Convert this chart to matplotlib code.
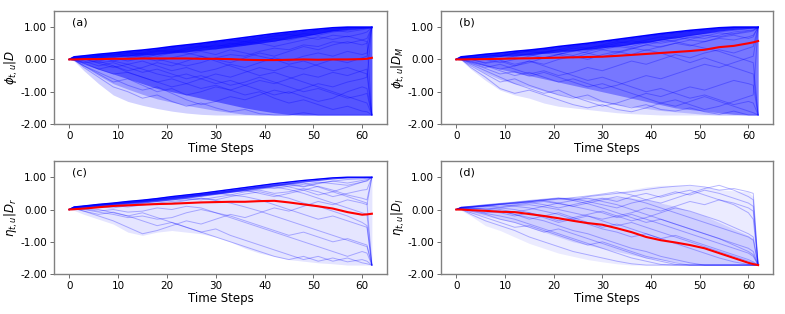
import numpy as np
import matplotlib
matplotlib.use('Agg')
import matplotlib.pyplot as plt
from matplotlib.ticker import FormatStrFormatter

# time grid shared by all series
steps = [0, 1, 3, 6, 9, 12, 15, 18, 21, 24, 27, 30, 33, 36, 39, 42, 45, 48, 51, 54, 57, 60, 61, 62]

# upper bound of the paths
upper = [0, .08, .11, .16, .2, .25, .29, .34, .4, .45, .5, .56, .62, .68, .74, .8, .85, .9, .94, .98, 1.0, 1.0, 1.0, 1.0]

# ---------- panel (a) ----------
mean_a = [0, 0, .01, .01, .02, .02, .03, .03, .03, .03, .02, .02, .01, -.01, -.02, -.02, -.01, 0, -.01, 0, 0, .01, .02, .05]
haze_lo_a = [0, -.05, -.35, -.75, -1.1, -1.3, -1.42, -1.52, -1.6, -1.66, -1.7, -1.72, -1.72, -1.72, -1.72, -1.72, -1.72, -1.72, -1.72, -1.72, -1.72, -1.72, -1.72, -1.72]
mid_lo_a = [0, -.04, -.22, -.5, -.75, -.92, -1.08, -1.22, -1.32, -1.42, -1.5, -1.58, -1.64, -1.7, -1.72, -1.72, -1.72, -1.72, -1.72, -1.72, -1.72, -1.72, -1.72, -1.72]
core_lo_a = [0, -.03, -.12, -.3, -.45, -.6, -.75, -.9, -1.0, -1.1, -1.2, -1.3, -1.4, -1.5, -1.58, -1.65, -1.7, -1.72, -1.72, -1.72, -1.72, -1.72, -1.72, -1.72]
solid_lo_a = [0, 0, .02, .05, .08, .1, .13, .16, .2, .24, .28, .33, .38, .44, .5, .57, .64, .72, .8, .88, .93, .96, .97, .97]
paths_a = [
    [0, .06, .02, -.1, -.05, .05, .1, .02, -.1, -.2, -.1, .05, .15, .1, .25, .35, .3, .45, .4, .55, .5, .6, .65, 1.0],
    [0, .02, -.15, -.3, -.45, -.4, -.55, -.7, -.6, -.75, -.9, -.8, -.95, -1.1, -1.0, -1.2, -1.35, -1.25, -1.4, -1.55, -1.45, -1.6, -1.62, -1.72],
    [0, .08, .1, .14, .12, .2, .15, .25, .3, .22, .35, .45, .4, .5, .6, .55, .7, .8, .75, .85, .9, .95, .97, 1.0],
    [0, -.02, -.2, -.45, -.7, -.6, -.8, -1.0, -.9, -1.1, -1.0, -.85, -.95, -.8, -.65, -.75, -.6, -.45, -.55, -.4, -.5, -.35, -.3, -1.72],
    [0, .05, 0, .08, -.05, -.15, -.05, -.2, -.35, -.25, -.4, -.3, -.15, -.25, -.1, .05, -.05, .1, .2, .1, .25, .15, .2, 1.0],
    [0, .04, -.05, -.2, -.1, -.25, -.4, -.3, -.45, -.6, -.5, -.65, -.8, -.7, -.55, -.7, -.85, -1.0, -.9, -1.05, -1.2, -1.1, -1.05, -1.72],
    [0, .07, .09, .12, .18, .1, .2, .28, .22, .35, .42, .38, .5, .45, .55, .65, .6, .7, .62, .75, .7, .8, .85, 1.0],
    [0, 0, -.25, -.55, -.85, -1.0, -1.2, -1.1, -1.3, -1.45, -1.35, -1.5, -1.62, -1.55, -1.68, -1.72, -1.72, -1.65, -1.72, -1.72, -1.72, -1.72, -1.72, -1.72],
    [0, .06, .05, -.05, .05, .15, .05, -.05, .05, .15, .25, .15, .3, .2, .1, 0, -.15, -.05, -.2, -.35, -.25, -.4, -.45, -1.72],
    [0, .03, -.1, -.05, -.2, -.35, -.25, -.1, -.2, -.05, .1, 0, -.1, .05, .2, .1, .25, .4, .3, .45, .55, .45, .5, 1.0],
    [0, .05, .02, -.12, -.25, -.15, -.3, -.45, -.55, -.45, -.6, -.75, -.65, -.8, -.95, -1.1, -1.0, -1.15, -1.3, -1.2, -1.0, -.85, -.9, -1.72],
    [0, .08, .11, .15, .2, .24, .28, .33, .38, .44, .49, .54, .6, .55, .65, .72, .78, .7, .8, .9, .85, .92, .95, 1.0],
    [0, .02, -.12, -.3, -.2, -.4, -.55, -.7, -.85, -.75, -.6, -.45, -.55, -.4, -.25, -.35, -.2, -.3, -.15, 0, -.1, .05, .1, 1.0],
    [0, .04, 0, .1, .05, -.05, .05, .15, .25, .2, .1, -.05, -.2, -.35, -.5, -.4, -.55, -.7, -.85, -1.0, -1.15, -1.3, -1.35, -1.72],
    [0, .07, .05, .12, .15, .22, .18, .1, .2, .3, .4, .32, .45, .55, .5, .4, .5, .6, .7, .62, .72, .6, .55, -1.72],
    [0, .01, -.2, -.4, -.6, -.8, -.95, -.85, -1.05, -1.25, -1.4, -1.3, -1.15, -1.25, -1.1, -.95, -1.05, -.9, -.75, -.85, -.7, -.6, -.55, 1.0],
]

# ---------- panel (b) ----------
mean_b = [0, 0, .005, .01, .02, .03, .035, .045, .055, .065, .075, .085, .11, .14, .17, .2, .23, .26, .3, .38, .42, .5, .53, .57]
haze_lo_b = [0, -.03, -.3, -.65, -.95, -1.1, -1.2, -1.35, -1.45, -1.5, -1.55, -1.6, -1.65, -1.68, -1.7, -1.72, -1.72, -1.72, -1.72, -1.72, -1.72, -1.72, -1.72, -1.72]
mid_lo_b = [0, -.02, -.18, -.42, -.62, -.75, -.85, -.98, -1.08, -1.16, -1.24, -1.32, -1.4, -1.46, -1.52, -1.58, -1.62, -1.66, -1.7, -1.72, -1.72, -1.72, -1.72, -1.72]
core_lo_b = [0, -.02, -.08, -.2, -.3, -.4, -.5, -.6, -.7, -.8, -.9, -1.0, -1.1, -1.2, -1.3, -1.4, -1.5, -1.55, -1.6, -1.65, -1.7, -1.72, -1.72, -1.72]
solid_lo_b = [0, 0, .03, .06, .09, .12, .15, .19, .23, .27, .31, .36, .41, .47, .53, .6, .67, .74, .81, .88, .93, .96, .97, .97]
paths_b = [
    [0, .07, .1, .15, .1, .2, .25, .2, .3, .4, .35, .45, .55, .5, .6, .7, .65, .75, .8, .85, .9, .95, .97, 1.0],
    [0, 0, -.2, -.45, -.7, -.6, -.8, -.95, -1.1, -1.2, -1.1, -1.3, -1.4, -1.5, -1.4, -1.55, -1.6, -1.5, -1.62, -1.7, -1.6, -1.72, -1.72, -1.72],
    [0, .05, 0, -.1, 0, .1, .15, .05, .15, .25, .35, .3, .4, .35, .45, .55, .6, .7, .65, .75, .85, .9, .92, 1.0],
    [0, .03, -.1, -.25, -.15, -.3, -.45, -.35, -.5, -.4, -.25, -.35, -.2, -.05, -.15, 0, .15, .05, .2, .3, .2, .35, .4, 1.0],
    [0, .06, .05, .1, -.02, -.15, -.05, -.2, -.35, -.5, -.65, -.55, -.7, -.85, -1.0, -.9, -1.05, -1.2, -1.1, -1.25, -1.4, -1.3, -1.35, -1.72],
    [0, .08, .11, .16, .2, .25, .29, .33, .38, .43, .48, .54, .6, .66, .72, .78, .83, .88, .92, .96, .99, 1.0, 1.0, 1.0],
    [0, .02, -.15, -.35, -.55, -.75, -.9, -1.05, -.95, -1.15, -1.3, -1.45, -1.35, -1.2, -1.05, -1.15, -1.0, -.85, -.95, -.8, -.65, -.75, -.8, -1.72],
    [0, .07, .08, .02, .1, .18, .12, .22, .3, .25, .35, .42, .38, .48, .55, .5, .58, .68, .75, .7, .8, .88, .9, 1.0],
    [0, .04, -.05, -.18, -.3, -.2, -.05, -.15, 0, .1, 0, .15, .25, .15, .3, .2, .05, -.1, .05, -.1, -.25, -.4, -.45, -1.72],
    [0, .05, .02, .08, .15, .08, .18, .25, .2, .12, .25, .35, .45, .4, .52, .6, .7, .62, .72, .82, .78, .85, .88, 1.0],
    [0, .01, -.25, -.55, -.9, -1.05, -.95, -1.1, -1.25, -1.4, -1.5, -1.4, -1.55, -1.62, -1.5, -1.35, -1.45, -1.3, -1.15, -1.3, -1.45, -1.6, -1.65, -1.72],
    [0, .06, .06, 0, -.1, 0, .1, .2, .15, .28, .2, .08, .2, .32, .45, .38, .5, .42, .55, .65, .6, .7, .75, 1.0],
    [0, .03, -.08, -.2, -.35, -.5, -.4, -.55, -.7, -.6, -.75, -.9, -.8, -.65, -.5, -.6, -.45, -.3, -.15, -.25, -.1, .05, .1, 1.0],
    [0, .07, .1, .14, .1, .2, .27, .32, .25, .35, .28, .4, .5, .58, .5, .62, .55, .45, .35, .25, .1, -.05, -.1, -1.72],
    [0, .05, 0, -.12, -.05, -.2, -.1, .05, .15, .05, .18, .3, .22, .35, .28, .4, .5, .6, .55, .68, .75, .65, .7, 1.0],
    [0, .02, -.12, -.28, -.45, -.38, -.52, -.4, -.55, -.7, -.85, -.75, -.9, -1.05, -1.2, -1.35, -1.25, -1.4, -1.55, -1.45, -1.3, -1.15, -1.1, 1.0],
]

# ---------- panel (c) ----------
mean_c = [0, .01, .03, .07, .11, .13, .15, .17, .18, .2, .22, .23, .24, .24, .26, .27, .22, .16, .1, .03, -.08, -.16, -.15, -.13]
haze_lo_c = [0, -.03, -.15, -.3, -.45, -.7, -.8, -.7, -.65, -.7, -.75, -.85, -1.0, -1.2, -1.35, -1.45, -1.55, -1.6, -1.65, -1.68, -1.72, -1.72, -1.72, -1.72]
solid_lo_c = [0, 0, .04, .08, .12, .16, .2, .25, .3, .35, .41, .47, .53, .6, .66, .73, .79, .85, .9, .95, .98, .98, .98, .98]
paths_c = [
    [0, .08, .11, .16, .2, .25, .29, .34, .4, .45, .5, .56, .62, .68, .74, .8, .85, .9, .94, .98, 1.0, 1.0, 1.0, 1.0],
    [0, .07, .1, .15, .19, .23, .27, .32, .37, .42, .47, .52, .58, .63, .7, .75, .8, .72, .82, .88, .93, .95, .97, 1.0],
    [0, .06, .08, .12, .16, .2, .24, .28, .33, .38, .44, .48, .55, .6, .5, .4, .5, .6, .45, .55, .4, .25, .2, -1.72],
    [0, .05, .03, 0, -.1, -.2, -.1, -.25, -.4, -.55, -.7, -.6, -.8, -.95, -1.1, -1.25, -1.4, -1.55, -1.45, -1.6, -1.5, -1.65, -1.68, -1.72],
    [0, .07, .09, .14, .18, .22, .26, .3, .35, .4, .45, .5, .55, .58, .65, .7, .62, .5, .35, .2, .05, -.1, -.15, -1.72],
    [0, .04, -.05, -.2, -.35, -.55, -.75, -.65, -.5, -.35, -.45, -.3, -.15, -.25, -.1, .05, -.05, .1, .25, .15, .3, .2, .15, 1.0],
    [0, .06, .07, .1, .14, .18, .22, .25, .3, .34, .3, .38, .45, .4, .3, .15, 0, -.15, -.3, -.2, -.35, -.5, -.55, -1.72],
    [0, .08, .1, .14, .17, .21, .25, .29, .34, .39, .44, .5, .56, .62, .68, .74, .8, .86, .9, .95, .98, .99, 1.0, 1.0],
    [0, .03, -.05, -.15, -.08, -.2, -.35, -.5, -.4, -.55, -.7, -.85, -1.0, -1.15, -1.3, -1.45, -1.55, -1.45, -1.6, -1.5, -1.62, -1.55, -1.6, -1.72],
    [0, .07, .1, .15, .19, .24, .28, .33, .38, .43, .48, .53, .58, .64, .7, .65, .72, .78, .85, .8, .75, .85, .9, 1.0],
    [0, .05, .05, .08, .05, .12, .18, .15, .2, .28, .35, .3, .4, .48, .55, .45, .35, .2, .1, -.05, -.2, -.4, -.5, -1.72],
    [0, .06, .09, .13, .17, .21, .25, .3, .35, .4, .46, .52, .57, .63, .68, .73, .78, .82, .7, .55, .7, .85, .88, 1.0],
    [0, .04, .02, -.05, 0, -.08, -.05, .05, 0, .1, .05, -.1, -.25, -.4, -.55, -.7, -.85, -1.0, -1.15, -1.3, -1.45, -1.3, -1.35, -1.72],
    [0, .07, .1, .14, .18, .22, .27, .31, .36, .41, .46, .51, .45, .55, .6, .5, .55, .65, .55, .4, .5, .6, .62, 1.0],
    [0, .05, .06, .1, .12, .08, .14, .2, .25, .3, .35, .28, .2, .08, -.05, -.2, -.35, -.5, -.65, -.8, -.95, -1.1, -1.15, -1.72],
    [0, .06, .08, .13, .16, .2, .24, .28, .32, .37, .42, .48, .53, .58, .63, .7, .76, .7, .8, .88, .82, .9, .93, 1.0],
    [0, .03, 0, -.08, -.15, -.25, -.2, -.3, -.25, -.1, 0, -.1, -.2, -.35, -.5, -.65, -.8, -.7, -.85, -1.0, -.9, -1.05, -1.1, -1.72],
    [0, .07, .1, .15, .19, .24, .28, .33, .38, .44, .49, .54, .6, .66, .72, .78, .7, .6, .72, .6, .45, .35, .3, 1.0],
]

# ---------- panel (d) ----------
mean_d = [0, 0, -.02, -.04, -.07, -.08, -.14, -.2, -.27, -.35, -.42, -.47, -.58, -.7, -.85, -.95, -1.02, -1.1, -1.2, -1.35, -1.5, -1.65, -1.69, -1.72]
haze_hi_d = [0, .08, .11, .16, .2, .25, .29, .33, .36, .38, .42, .48, .55, .62, .7, .75, .75, .75, .7, .62, .58, .55, .4, -1.72]
haze_lo_d = [0, -.03, -.2, -.5, -.65, -.85, -1.05, -1.2, -1.35, -1.45, -1.55, -1.62, -1.68, -1.72, -1.72, -1.72, -1.72, -1.72, -1.72, -1.72, -1.72, -1.72, -1.72, -1.72]
core_hi_d = [0, .08, .11, .16, .2, .25, .29, .33, .36, .38, .38, .38, .38, .36, .3, .2, .1, -.05, -.2, -.4, -.6, -.8, -.9, -1.72]
core_lo_d = [0, -.02, -.1, -.2, -.3, -.4, -.55, -.7, -.85, -1.0, -1.1, -1.2, -1.3, -1.4, -1.5, -1.55, -1.62, -1.68, -1.72, -1.72, -1.72, -1.72, -1.72, -1.72]
paths_d = [
    [0, .07, .1, .14, .18, .22, .26, .3, .34, .3, .4, .45, .5, .55, .62, .68, .72, .75, .7, .6, .65, .55, .5, -1.72],
    [0, .05, .05, .02, -.05, -.15, -.25, -.35, -.5, -.65, -.75, -.9, -1.05, -1.2, -1.3, -1.45, -1.55, -1.65, -1.72, -1.72, -1.72, -1.72, -1.72, -1.72],
    [0, .06, .08, .12, .15, .1, .05, -.05, -.15, -.3, -.2, -.35, -.5, -.4, -.55, -.7, -.85, -1.0, -1.15, -1.3, -1.45, -1.6, -1.65, -1.72],
    [0, .03, -.05, -.15, -.3, -.4, -.55, -.7, -.6, -.75, -.9, -1.05, -1.2, -1.35, -1.5, -1.6, -1.7, -1.72, -1.72, -1.72, -1.72, -1.72, -1.72, -1.72],
    [0, .07, .1, .15, .19, .23, .28, .32, .36, .33, .25, .15, .05, .2, .3, .42, .55, .45, .6, .5, .35, .2, .1, -1.72],
    [0, .04, 0, -.1, -.05, -.15, -.3, -.2, -.35, -.25, -.4, -.55, -.45, -.6, -.75, -.9, -.8, -.95, -1.1, -1.25, -1.4, -1.55, -1.62, -1.72],
    [0, .06, .07, .1, .15, .18, .22, .15, .05, .15, .25, .35, .25, .4, .5, .38, .5, .6, .45, .3, .15, -.1, -.3, -1.72],
    [0, .02, -.1, -.25, -.4, -.55, -.5, -.65, -.8, -.95, -1.1, -1.0, -1.15, -1.3, -1.45, -1.55, -1.65, -1.72, -1.72, -1.72, -1.72, -1.72, -1.72, -1.72],
    [0, .05, .04, 0, .05, 0, -.1, -.2, -.1, -.25, -.15, -.05, -.2, -.1, .05, -.05, .1, .25, .15, .3, .2, .05, -.05, -1.72],
    [0, .07, .09, .13, .17, .2, .24, .28, .2, .1, 0, -.1, -.25, -.15, -.3, -.45, -.6, -.75, -.9, -1.05, -1.2, -1.35, -1.45, -1.72],
    [0, .03, -.02, -.12, -.2, -.3, -.45, -.6, -.75, -.9, -1.05, -1.2, -1.35, -1.5, -1.6, -1.7, -1.72, -1.72, -1.72, -1.72, -1.72, -1.72, -1.72, -1.72],
    [0, .06, .07, .12, .08, .14, .2, .25, .18, .1, .2, .3, .4, .32, .2, .05, -.1, -.25, -.4, -.55, -.7, -.85, -.95, -1.72],
    [0, .05, .02, .05, 0, -.08, 0, .1, .2, .28, .35, .25, .15, 0, -.15, -.3, -.45, -.6, -.75, -.9, -1.1, -1.3, -1.4, -1.72],
    [0, .06, .08, .12, .16, .2, .24, .28, .32, .37, .42, .48, .55, .45, .3, .2, .35, .5, .65, .75, .6, .4, .3, -1.72],
    [0, .01, -.15, -.35, -.5, -.65, -.85, -1.0, -1.15, -1.3, -1.4, -1.5, -1.6, -1.68, -1.72, -1.72, -1.72, -1.72, -1.72, -1.72, -1.72, -1.72, -1.72, -1.72],
    [0, .04, .03, -.05, -.1, -.2, -.1, -.25, -.4, -.3, -.45, -.6, -.7, -.85, -.75, -.9, -1.05, -1.2, -1.35, -1.5, -1.62, -1.7, -1.72, -1.72],
    [0, .07, .09, .12, .17, .2, .25, .3, .35, .28, .18, .05, -.1, -.25, -.4, -.3, -.45, -.6, -.75, -.9, -1.05, -1.2, -1.3, -1.72],
    [0, .05, .06, .1, .05, .12, .15, .08, 0, -.1, -.2, -.3, -.2, -.35, -.25, -.1, .05, -.05, -.2, -.35, -.55, -.75, -.85, -1.72],
]

labels = ['(a)', '(b)', '(c)', '(d)']
ylabels = [r'$\phi_{t,u}|D$', r'$\phi_{t,u}|D_M$', r'$\eta_{t,u}|D_r$', r'$\eta_{t,u}|D_l$']

fig = plt.figure(figsize=(7.85, 3.14), dpi=100)
rects = [[0.069, 0.605, 0.424, 0.36], [0.562, 0.605, 0.423, 0.36],
         [0.069, 0.127, 0.424, 0.36], [0.562, 0.127, 0.423, 0.36]]
axes = [fig.add_axes(r) for r in rects]

# (a)
ax = axes[0]
ax.fill_between(steps, haze_lo_a, upper, color='blue', alpha=0.18, lw=0)
ax.fill_between(steps, mid_lo_a, upper, color='blue', alpha=0.25, lw=0)
ax.fill_between(steps, core_lo_a, upper, color='blue', alpha=0.45, lw=0)
ax.fill_between(steps, solid_lo_a, upper, color='blue', alpha=0.7, lw=0)
for p in paths_a:
    ax.plot(steps, p, color='blue', alpha=0.3, lw=0.7)
ax.plot(steps, upper, color='blue', lw=1.2)
ax.plot(steps, mean_a, color='red', lw=1.5)

# (b)
ax = axes[1]
ax.fill_between(steps, haze_lo_b, upper, color='blue', alpha=0.12, lw=0)
ax.fill_between(steps, mid_lo_b, upper, color='blue', alpha=0.18, lw=0)
ax.fill_between(steps, core_lo_b, upper, color='blue', alpha=0.35, lw=0)
ax.fill_between(steps, solid_lo_b, upper, color='blue', alpha=0.7, lw=0)
for p in paths_b:
    ax.plot(steps, p, color='blue', alpha=0.3, lw=0.7)
ax.plot(steps, upper, color='blue', lw=1.2)
ax.plot(steps, mean_b, color='red', lw=1.5)

# (c)
ax = axes[2]
ax.fill_between(steps, haze_lo_c, upper, color='blue', alpha=0.1, lw=0)
ax.fill_between(steps, solid_lo_c, upper, color='blue', alpha=0.55, lw=0)
for p in paths_c:
    ax.plot(steps, p, color='blue', alpha=0.28, lw=0.7)
ax.plot(steps, upper, color='blue', lw=1.0)
ax.plot(steps, mean_c, color='red', lw=1.5)

# (d)
ax = axes[3]
ax.fill_between(steps, haze_lo_d, haze_hi_d, color='blue', alpha=0.08, lw=0)
ax.fill_between(steps, core_lo_d, core_hi_d, color='blue', alpha=0.12, lw=0)
for p in paths_d:
    ax.plot(steps, p, color='blue', alpha=0.28, lw=0.7)
ax.plot(steps, mean_d, color='red', lw=1.5)

for ax, lab, yl in zip(axes, labels, ylabels):
    ax.set_ylim(-2, 1.5)
    ax.set_xticks([0, 10, 20, 30, 40, 50, 60])
    ax.set_yticks([-2, -1, 0, 1])
    ax.yaxis.set_major_formatter(FormatStrFormatter('%.2f'))
    ax.tick_params(labelsize=7.5, length=3, width=0.6, pad=2, color='#555555')
    ax.set_xlabel('Time Steps', fontsize=8.5, labelpad=1)
    ax.set_ylabel(yl, fontsize=8.5, labelpad=0)
    ax.text(0.055, 0.9, lab, transform=ax.transAxes, fontsize=8, va='center')
    for s in ax.spines.values():
        s.set_color('#808080')
        s.set_linewidth(1.0)

fig.savefig('out.png', dpi=100)
